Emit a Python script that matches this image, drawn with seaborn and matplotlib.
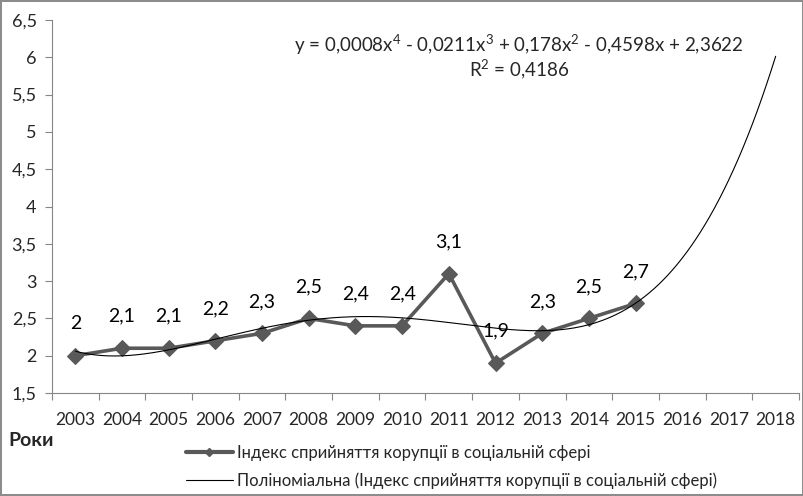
import matplotlib
matplotlib.use("Agg")
import matplotlib.pyplot as plt
import numpy as np
import pandas as pd
import seaborn as sns
from matplotlib.lines import Line2D
from matplotlib.ticker import FixedLocator, FuncFormatter

# Data
years = list(range(2003, 2019))
index_values = [2.0, 2.1, 2.1, 2.2, 2.3, 2.5, 2.4, 2.4, 3.1, 1.9, 2.3, 2.5, 2.7]
series_label = "Індекс сприйняття корупції в соціальній сфері"
trend_label = "Поліноміальна (Індекс сприйняття корупції в соціальній сфері)"
equation = "y = 0,0008x$^4$ - 0,0211x$^3$ + 0,178x$^2$ - 0,4598x + 2,3622"
r2_text = "R$^2$ = 0,4186"

sns.set_theme(style="ticks")
plt.rcParams["font.family"] = ["Lato", "DejaVu Sans"]
plt.rcParams["mathtext.fontset"] = "custom"
plt.rcParams["mathtext.rm"] = "Lato"
plt.rcParams["mathtext.it"] = "Lato"

line_color = "#595959"
axis_color = "#868686"

df = pd.DataFrame({"pos": np.arange(1, len(index_values) + 1), "value": index_values})

# 4th order polynomial trend, like the Excel trendline, extended to 2018
coef = np.polyfit(df["pos"], df["value"], 4)
trend_x = np.linspace(1, len(years), 300)
trend_df = pd.DataFrame({"pos": trend_x, "value": np.polyval(coef, trend_x)})

fig = plt.figure(figsize=(8.04, 4.96), dpi=100)
fig.patch.set_edgecolor("#8c8c8c")
fig.patch.set_linewidth(1.5)
ax = fig.add_axes([52 / 804, 1 - 393 / 496, (799 - 52) / 804, 373 / 496])

sns.lineplot(data=trend_df, x="pos", y="value", ax=ax, color="black",
             linewidth=0.8, zorder=3)
sns.lineplot(data=df, x="pos", y="value", ax=ax, color=line_color,
             linewidth=2.6, marker="D", markersize=8.5, markeredgecolor=line_color,
             zorder=2)

# data labels
for p, v in zip(df["pos"], df["value"]):
    ax.annotate(f"{v:g}".replace(".", ","), (p, v), xytext=(0, 23),
                textcoords="offset points", ha="center", va="center",
                fontsize=14, color="black")

ax.text(0.625, 0.933, equation, transform=ax.transAxes, ha="center",
        va="center", fontsize=13.5)
ax.text(0.625, 0.868, r2_text, transform=ax.transAxes, ha="center",
        va="center", fontsize=13.5)

ax.set_xlim(0.5, len(years) + 0.5)
ax.set_ylim(1.5, 6.5)
ax.set_xticks(range(1, len(years) + 1))
ax.set_xticklabels([str(y) for y in years])
ax.xaxis.set_minor_locator(FixedLocator(np.arange(0.5, len(years) + 1, 1)))
ax.tick_params(axis="x", which="major", length=0, pad=14, labelsize=12.5)
ax.tick_params(axis="x", which="minor", length=5, color=axis_color, width=0.8)
ax.set_yticks(np.arange(1.5, 6.51, 0.5))
ax.yaxis.set_major_formatter(FuncFormatter(lambda v, p: f"{v:g}".replace(".", ",")))
ax.tick_params(axis="y", length=5, color=axis_color, width=0.8, labelsize=13, pad=6)
ax.set_xlabel("")
ax.set_ylabel("")

sns.despine(ax=ax)
for s in ["left", "bottom"]:
    ax.spines[s].set_color(axis_color)
    ax.spines[s].set_linewidth(0.8)

fig.text(8 / 804, 1 - 441 / 496, "Роки", fontsize=14, fontweight="bold",
         ha="left", va="center")

handles = [
    Line2D([], [], color=line_color, linewidth=3, marker="D", markersize=4),
    Line2D([], [], color="black", linewidth=0.8),
]
fig.legend(handles, [series_label, trend_label], loc="upper left",
           bbox_to_anchor=(186 / 804, 1 - 445 / 496), frameon=False,
           fontsize=12, handlelength=2.8, handletextpad=0.25, labelspacing=0.7,
           borderpad=0, borderaxespad=0)

fig.savefig("out.png", dpi=100)
